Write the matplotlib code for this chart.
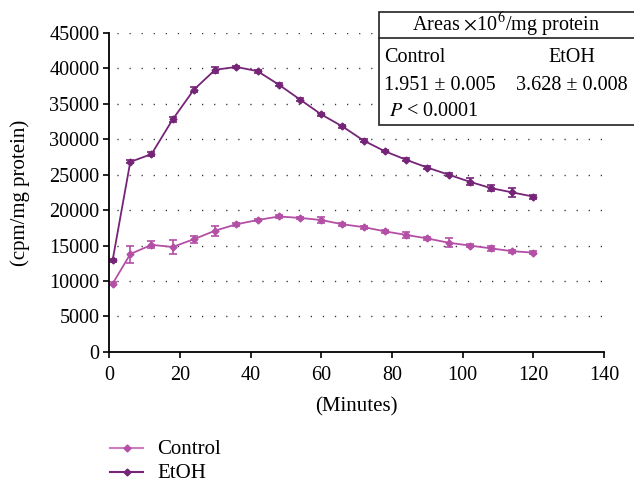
import numpy as np
import matplotlib.pyplot as plt
from matplotlib.lines import Line2D
from matplotlib.patches import Rectangle

plt.rcParams['font.family'] = ['Liberation Serif', 'DejaVu Serif']
plt.rcParams['mathtext.fontset'] = 'stix'

# DATA
minutes = [1, 6, 12, 18, 24, 30, 36, 42, 48, 54, 60, 66, 72, 78, 84, 90, 96, 102, 108, 114, 120]
control = [9600, 13800, 15100, 14800, 15900, 17100, 18000, 18600, 19100, 18900, 18600,
           18000, 17600, 17000, 16500, 16000, 15400, 15000, 14600, 14200, 14000]
control_err = [200, 1200, 500, 1000, 500, 700, 200, 200, 250, 150, 450,
               200, 200, 200, 400, 200, 600, 200, 400, 200, 200]
etoh = [12900, 26800, 27900, 32800, 37000, 39800, 40200, 39600, 37700, 35600, 33500,
        31800, 29800, 28300, 27100, 26000, 25000, 24000, 23100, 22500, 21900]
etoh_err = [250, 200, 300, 300, 400, 400, 200, 200, 200, 150, 200,
            200, 200, 150, 200, 200, 200, 500, 400, 600, 300]
series_names = ['Control', 'EtOH']

col_control = '#b44fa6'
col_etoh = '#752478'
fs = 14.5

fig = plt.figure(figsize=(6.34, 4.84), dpi=100)
ax = fig.add_axes([0.172, 0.273, 0.781, 0.659])

for y in range(5000, 45001, 5000):
    ax.axhline(y, color='#333333', linewidth=1.0, linestyle=(3, (0.9, 7.8)), zorder=0)

ax.errorbar(minutes, control, yerr=control_err, color=col_control, marker='D', markersize=3.5,
            linewidth=1.3, elinewidth=1.2, capsize=3, capthick=1.2)
ax.errorbar(minutes, etoh, yerr=etoh_err, color=col_etoh, marker='D', markersize=3.5,
            linewidth=1.3, elinewidth=1.2, capsize=3, capthick=1.2)

ax.set_xlim(0, 140)
ax.set_ylim(0, 45000)
ax.set_xticks(range(0, 141, 20))
ax.set_yticks(range(0, 45001, 5000))
ax.spines['top'].set_visible(False)
ax.spines['right'].set_visible(False)
ax.spines['left'].set_linewidth(1.3)
ax.spines['bottom'].set_linewidth(1.3)
ax.tick_params(labelsize=fs, length=4, width=1.2, direction='out', pad=3)
ax.tick_params(axis='x', pad=6)
ax.set_xlabel('(Minutes)', fontsize=fs + 0.5, labelpad=9)
ax.set_ylabel('(cpm/mg protein)', fontsize=fs + 0.5, labelpad=14)

# legend below the plot
legend_y = [1 - 448 / 484, 1 - 472 / 484]
legend_cols = ['#cc7cc0', col_etoh]
legend_mk = [col_control, col_etoh]
for yy, lc, mc, name in zip(legend_y, legend_cols, legend_mk, series_names):
    fig.add_artist(Line2D([110 / 634, 143 / 634], [yy, yy], transform=fig.transFigure,
                          color=lc, linewidth=1.5))
    fig.add_artist(Line2D([126.5 / 634], [yy], transform=fig.transFigure, marker='D',
                          markersize=3.5, color=mc, linestyle='none'))
    fig.text(157 / 634, yy - 0.003, name, ha='left', va='center', fontsize=fs + 0.5)

# areas table
x0, y0, w, h = 379 / 634, 1 - 125 / 484, 260 / 634, 113 / 484
fig.patches.append(Rectangle((x0, y0), w, h, transform=fig.transFigure, facecolor='white',
                             edgecolor='#222222', linewidth=1.2, zorder=1))
fig.add_artist(Line2D([x0, 1], [1 - 38 / 484] * 2, transform=fig.transFigure,
                      color='#222222', linewidth=1.2, zorder=2))
kw = dict(va='center', fontsize=fs, zorder=10)
fig.text(506 / 634, 1 - 25 / 484, r'Areas $\times$10$^{6}$/mg protein', ha='center', **kw)
fig.text(384 / 634, 1 - 57 / 484, 'Control', ha='left', **kw)
fig.text(572 / 634, 1 - 57 / 484, 'EtOH', ha='center', **kw)
fig.text(384 / 634, 1 - 85 / 484, '1.951 ± 0.005', ha='left', **kw)
fig.text(516 / 634, 1 - 85 / 484, '3.628 ± 0.008', ha='left', **kw)
fig.text(389 / 634, 1 - 111 / 484, r'$P$ < 0.0001', ha='left', **kw)

fig.savefig('out.png', dpi=100)
